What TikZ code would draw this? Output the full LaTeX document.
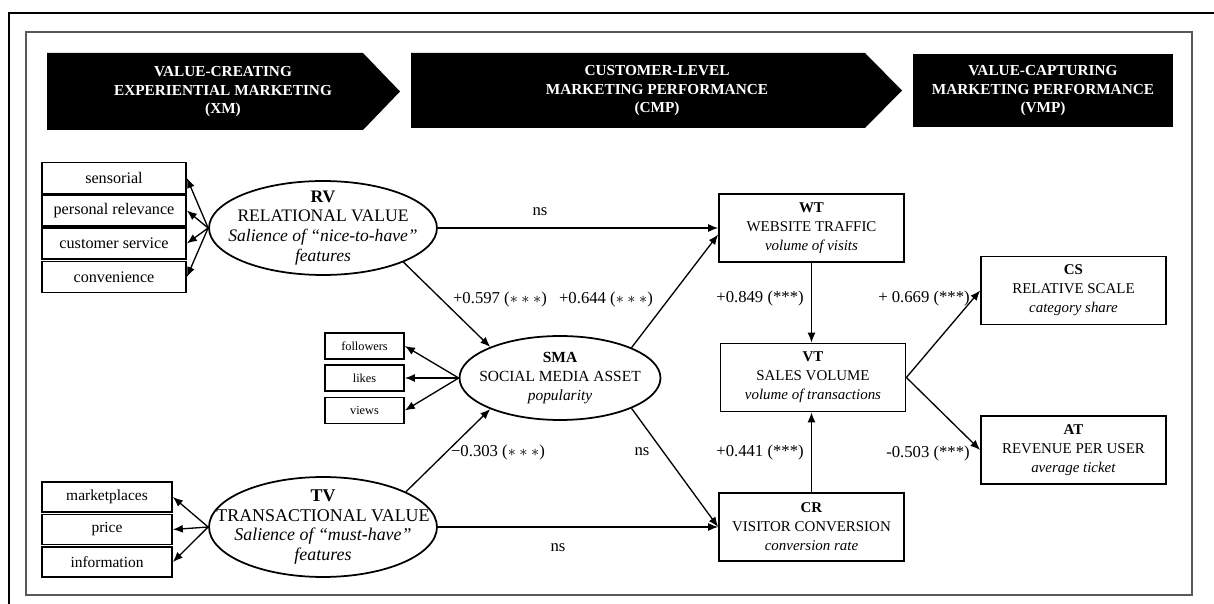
\documentclass[tikz,border=0pt]{standalone}
\usepackage{fontspec}
\setmainfont{Liberation Serif}
\usetikzlibrary{arrows.meta, shapes.geometric}

\begin{document}
\begin{tikzpicture}[x=0.02cm, y=-0.02cm, line width=0.75pt,
    every node/.style={font=\fontsize{10}{11.5}\selectfont},
    latent/.style 2 args={draw, ellipse, line width=1pt, inner sep=0pt,
        label={[align=center, font=#1]center:{#2}}},
    measure/.style={draw, rectangle, line width=1pt, inner sep=0pt, font=\fontsize{9.2}{11}\selectfont},
    outcome/.style={draw, rectangle, line width=1pt, inner sep=0pt, align=center, minimum width=3.7cm, minimum height=1.36cm,
        font=\fontsize{8.5}{10.8}\selectfont},
    path/.style={-{Latex[length=2mm, width=1.6mm]}},
    coef/.style={font=\fontsize{9.5}{11}\selectfont},
    header/.style={text=white, align=center, font=\bfseries\fontsize{8.7}{10.5}\selectfont}]
    \useasboundingbox (0,0) rectangle (1214,604);

    % Frames
    \draw[line width=1.7pt] (9,604) -- (9,13) -- (1214,13);
    \draw[black!65, line width=1pt] (26,32) rectangle (1192,595);

    % Stage headers
    \fill (47,53) -- (363,53) -- (400,91.5) -- (363,130) -- (47,130) -- cycle;
    \node[header] (XMhead) at (223,92) {VALUE-CREATING\\EXPERIENTIAL MARKETING\\(XM)};
    \fill (411,53) -- (865,53) -- (902,90.5) -- (865,128) -- (411,128) -- cycle;
    \node[header] (CMPhead) at (657,91) {CUSTOMER-LEVEL\\MARKETING PERFORMANCE\\(CMP)};
    \fill (913,54) rectangle (1173,127);
    \node[header] (VMPhead) at (1043,91) {VALUE-CAPTURING\\MARKETING PERFORMANCE\\(VMP)};

    % Latent constructs
    \node[latent={\fontsize{10}{11.3}\selectfont}{\textbf{RV}\\RELATIONAL VALUE\\\textit{Salience of ``nice-to-have''}\\\textit{features}},
        minimum width=4.56cm, minimum height=1.88cm] (RV) at (323,228) {};
    \node[latent={\fontsize{10.2}{11.3}\selectfont}{\textbf{TV}\\TRANSACTIONAL VALUE\\\textit{Salience of ``must-have''}\\\textit{features}},
        minimum width=4.56cm, minimum height=2cm] (TV) at (323,527) {};
    \node[latent={\fontsize{8.8}{10.6}\selectfont}{\textbf{SMA}\\SOCIAL MEDIA ASSET\\\textit{popularity}},
        minimum width=4.02cm, minimum height=1.68cm] (SMA) at (560,378) {};

    % Indicators
    \foreach \name/\txt/\y in {sens/sensorial/178, pers/personal relevance/210.5, serv/customer service/243.5, conv/convenience/277} {
        \node[measure, minimum width=2.88cm, minimum height=0.62cm] (\name) at (114,\y) {\txt};
        \draw[path] (RV.west) -- (\name.east);
    }
    \foreach \name/\txt/\y in {mark/marketplaces/497, pric/price/529.5, info/information/562} {
        \node[measure, minimum width=2.6cm, minimum height=0.6cm, font=\fontsize{8.8}{10}\selectfont] (\name) at (107,\y) {\txt};
        \draw[path] (TV.west) -- (\name.east);
    }
    \foreach \name/\txt/\y in {foll/followers/346, like/likes/378, view/views/410.5} {
        \node[measure, minimum width=1.58cm, minimum height=0.52cm, font=\fontsize{7}{8}\selectfont] (\name) at (364.5,\y) {\txt};
        \draw[path] (SMA.west) -- (\name.east);
    }

    % Performance outcomes
    \node[outcome] (WT) at (811.5,228) {\textbf{WT}\\WEBSITE TRAFFIC\\\textit{volume of visits}};
    \node[outcome] (VT) at (813,377.5) {\textbf{VT}\\SALES VOLUME\\\textit{volume of transactions}};
    \node[outcome] (CR) at (811.5,527) {\textbf{CR}\\VISITOR CONVERSION\\\textit{conversion rate}};
    \node[outcome] (CS) at (1073.5,290.5) {\textbf{CS}\\RELATIVE SCALE\\\textit{category share}};
    \node[outcome] (AT) at (1073.5,450) {\textbf{AT}\\REVENUE PER USER\\\textit{average ticket}};

    % Structural paths
    \draw[path] (RV.east) -- (WT.west);
    \draw[path] (RV.-23) -- (SMA.156);
    \draw[path] (SMA.23) -- (WT.184);
    \draw[path] (WT.south) -- (WT.south |- VT.north);
    \draw[path] (CR.north) -- (CR.north |- VT.south);
    \draw[path] (SMA.-23) -- (CR.west);
    \draw[path] (TV.23) -- (SMA.204);
    \draw[path] (TV.east) -- (CR.west);
    \draw[path] (VT.east) -- (CS.west);
    \draw[path] (VT.east) -- (AT.west);

    % Coefficients
    \node[coef] (cRVWT) at (540,212) {ns};
    \node[coef] (cRVSMA) at (500,299) {+0.597 ($\ast\ast\ast$)};
    \node[coef] (cSMAWT) at (606,299) {+0.644 ($\ast\ast\ast$)};
    \node[coef] (cWTVT) at (760,298) {+0.849 (***)};
    \node[coef] (cVTCS) at (924,298) {+ 0.669 (***)};
    \node[coef] (cTVSMA) at (498,452) {−0.303 ($\ast\ast\ast$)};
    \node[coef] (cSMACR) at (642,452) {ns};
    \node[coef] (cCRVT) at (760,452) {+0.441 (***)};
    \node[coef] (cVTAT) at (928,453) {-0.503 (***)};
    \node[coef] (cTVCR) at (558,548) {ns};
\end{tikzpicture}
\end{document}
